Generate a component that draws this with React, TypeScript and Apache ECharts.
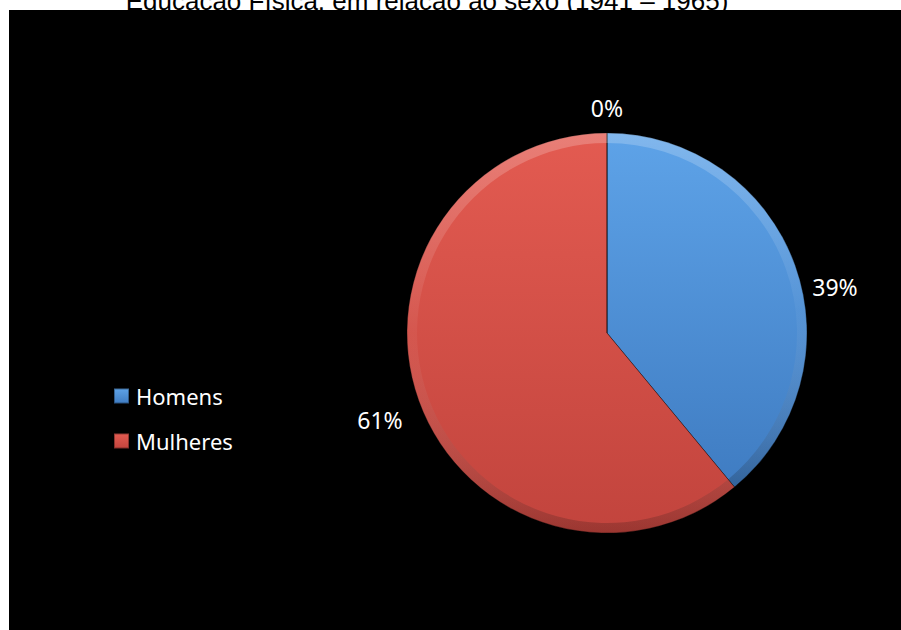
import React, { useEffect, useRef } from "react";
import * as echarts from "echarts";

const TITLE = "Educação Física, em relação ao sexo (1941 – 1965)";
const CATEGORIES = ["Homens", "Mulheres", "Outros"];
const VALUES = [39, 61, 0];
const LEGEND_ITEMS = ["Homens", "Mulheres"];

const COLORS = [
  ["#5ea3e8", "#3f7cc2"],
  ["#e35b51", "#c2443d"],
  ["#999999", "#777777"],
];
// label offsets from pie centre (px)
const LABEL_OFFSETS = [
  [228, -46],
  [-227, 87],
  [0, -225],
];

export default function App() {
  const ref = useRef<HTMLDivElement>(null);
  useEffect(() => {
    document.body.style.margin = "0";
    const chart = echarts.init(ref.current!, null, { renderer: "svg" });
    const cx = 607;
    const cy = 333;
    const grad = (c: string[]) =>
      new echarts.graphic.LinearGradient(0, 0, 0, 1, [
        { offset: 0, color: c[0] },
        { offset: 1, color: c[1] },
      ]);
    chart.setOption({
      animation: false,
      backgroundColor: "#ffffff",
      graphic: [
        {
          type: "text",
          x: 427,
          y: 14,
          z: 1,
          style: {
            text: TITLE,
            font: "26px 'Liberation Sans', Arial, sans-serif",
            fill: "#000",
            textAlign: "center",
            textVerticalAlign: "bottom",
          },
        },
        {
          type: "rect",
          z: 2,
          shape: { x: 9, y: 10, width: 900, height: 630 },
          style: { fill: "#000" },
        },
      ],
      legend: {
        data: LEGEND_ITEMS,
        orient: "vertical",
        left: 113,
        top: 385,
        padding: 0,
        itemWidth: 15,
        itemHeight: 15,
        itemGap: 23,
        icon: "rect",
        z: 5,
        textStyle: {
          color: "#ffffff",
          fontSize: 22,
          fontFamily: "'Noto Sans', sans-serif",
          padding: [0, 0, 0, 2],
        },
      },
      series: [
        {
          type: "pie",
          z: 5,
          center: [cx, cy],
          radius: 200,
          startAngle: 90,
          clockwise: true,
          avoidLabelOverlap: false,
          minShowLabelAngle: 0,
          data: CATEGORIES.map((n, i) => ({
            name: n,
            value: VALUES[i],
            itemStyle: { color: grad(COLORS[i]) },
          })),
          itemStyle: { borderColor: "rgba(0,0,0,0.35)", borderWidth: 1 },
          label: {
            show: true,
            position: "outside",
            formatter: (p: any) => Math.round(p.percent) + "%",
            color: "#ffffff",
            fontSize: 23,
            fontFamily: "'Noto Sans', sans-serif",
          },
          labelLine: { show: false },
          labelLayout: (p: any) => {
            const o = LABEL_OFFSETS[p.dataIndex];
            return {
              x: cx + o[0],
              y: cy + o[1],
              align: "center",
              verticalAlign: "middle",
            };
          },
        },
        {
          type: "pie",
          z: 6,
          silent: true,
          center: [cx, cy],
          radius: [190, 200],
          startAngle: 90,
          clockwise: true,
          label: { show: false },
          labelLine: { show: false },
          data: CATEGORIES.map((n, i) => ({
            name: n,
            value: VALUES[i],
            itemStyle: {
              color: new echarts.graphic.LinearGradient(0, 0, 0, 1, [
                { offset: 0, color: "rgba(255,255,255,0.22)" },
                { offset: 0.5, color: "rgba(255,255,255,0.04)" },
                { offset: 1, color: "rgba(0,0,0,0.2)" },
              ]),
            },
          })),
          itemStyle: { borderWidth: 0 },
        },
      ],
    });
    return () => chart.dispose();
  }, []);
  return <div ref={ref} style={{ width: 901, height: 630 }} />;
}
